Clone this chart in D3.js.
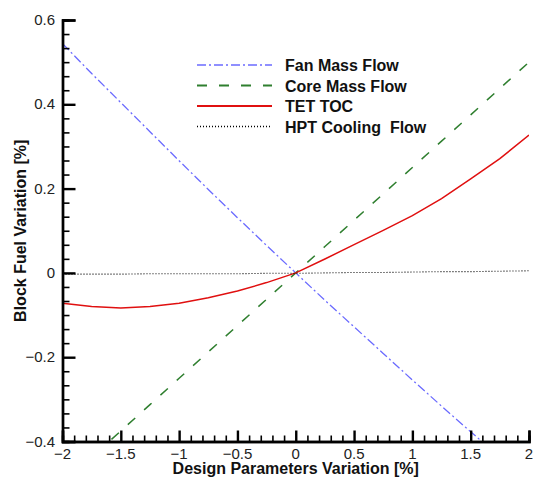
<!DOCTYPE html>
<html>
<head>
<meta charset="utf-8">
<script src="https://cdn.jsdelivr.net/npm/d3@7"></script>
<style>
  body { margin: 0; background: #fff; }
  svg text { font-family: "Liberation Sans", Arial, sans-serif; }
</style>
</head>
<body>
<div id="chart"></div>
<script>
// x positions (design parameter variation, %)
const xValues = [-2, -1.75, -1.5, -1.25, -1, -0.75, -0.5, -0.25, 0, 0.25, 0.5, 0.75, 1, 1.25, 1.5, 1.75, 2];

// block fuel variation (%) for each series
const fanMassFlow = [0.544, 0.473, 0.404, 0.335, 0.266, 0.198, 0.131, 0.065, 0, -0.065, -0.128, -0.191, -0.254, -0.316, -0.377, -0.437, -0.496];
const coreMassFlow = [-0.5, -0.4375, -0.375, -0.3125, -0.25, -0.1875, -0.125, -0.0625, 0, 0.0625, 0.125, 0.1875, 0.25, 0.3125, 0.375, 0.4375, 0.5];
const tetToc = [-0.072, -0.080, -0.083, -0.080, -0.072, -0.059, -0.043, -0.023, 0, 0.033, 0.067, 0.101, 0.136, 0.176, 0.223, 0.271, 0.327];
const hptCoolingFlow = [-0.003, -0.003, -0.003, -0.002, -0.002, -0.002, -0.002, -0.001, -0.001, 0, 0.001, 0.001, 0.002, 0.003, 0.003, 0.004, 0.005];

const xTicks = [-2, -1.5, -1, -0.5, 0, 0.5, 1, 1.5, 2];
const yTicks = [-0.4, -0.2, 0, 0.2, 0.4, 0.6];

const seriesList = [
  { name: "Fan Mass Flow", values: fanMassFlow, color: "#6b6bff", dash: "9,3,2,3", width: 1.3 },
  { name: "Core Mass Flow", values: coreMassFlow, color: "#2f7f2f", dash: "10,12", width: 1.5 },
  { name: "TET TOC", values: tetToc, color: "#e01010", dash: null, width: 1.5 },
  { name: "HPT Cooling  Flow", values: hptCoolingFlow, color: "#000", dash: "1,2", width: 1.1 }
];

const width = 533, height = 479;
const plotLeft = 62.5, plotRight = 529, plotTop = 20, plotBottom = 441.5;

const svg = d3.select("#chart").append("svg")
  .attr("width", width)
  .attr("height", height);

const x = d3.scaleLinear().domain([-2, 2]).range([plotLeft, plotRight]);
const y = d3.scaleLinear().domain([-0.4, 0.6]).range([plotBottom, plotTop]);

svg.append("clipPath").attr("id", "plotclip")
  .append("rect")
  .attr("x", plotLeft).attr("y", plotTop)
  .attr("width", plotRight - plotLeft).attr("height", plotBottom - plotTop);

const line = d3.line()
  .x(d => x(d[0]))
  .y(d => y(d[1]));

// Series lines
const plot = svg.append("g").attr("clip-path", "url(#plotclip)");
seriesList.forEach(s => {
  plot.append("path")
    .datum(xValues.map((xv, i) => [xv, s.values[i]]))
    .attr("d", line)
    .attr("fill", "none")
    .attr("stroke", s.color)
    .attr("stroke-width", s.width)
    .attr("stroke-dasharray", s.dash);
});

// Minor ticks
const xMinor = d3.range(-2, 2.0001, 0.1).filter(v => Math.abs(v * 2 - Math.round(v * 2)) > 1e-6);
const yMinor = d3.range(-0.4, 0.6001, 0.2 / 6).filter(v => Math.abs(v * 5 - Math.round(v * 5)) > 1e-6);

// X axis (ticks pointing into the plot)
const xAxis = svg.append("g")
  .attr("transform", `translate(0,${plotBottom})`)
  .call(d3.axisTop(x).tickValues(xMinor).tickSize(6).tickFormat(""));
const xMajor = xAxis.append("g")
  .call(d3.axisTop(x).tickValues(xTicks).tickSize(11).tickFormat(""));
xAxis.selectAll("path.domain").attr("stroke-width", 2.4).attr("stroke", "#000");
xAxis.selectAll("line").attr("stroke", "#000").attr("stroke-width", 1.6);
xMajor.selectAll("line").attr("stroke-width", 2.4);

svg.selectAll(".xlabel")
  .data(xTicks)
  .enter().append("text")
  .attr("x", d => x(d))
  .attr("y", plotBottom + 17)
  .attr("text-anchor", "middle")
  .attr("font-size", "15px")
  .attr("fill", "#222")
  .text(d => d3.format("")(d));

// Y axis (ticks pointing into the plot)
const yAxis = svg.append("g")
  .attr("transform", `translate(${plotLeft},0)`)
  .call(d3.axisRight(y).tickValues(yMinor).tickSize(7).tickFormat(""));
const yMajor = yAxis.append("g")
  .call(d3.axisRight(y).tickValues(yTicks).tickSize(13).tickFormat(""));
yAxis.selectAll("path.domain").attr("stroke-width", 2.4).attr("stroke", "#000");
yAxis.selectAll("line").attr("stroke", "#000").attr("stroke-width", 1.6);
yMajor.selectAll("line").attr("stroke-width", 2.4);

svg.selectAll(".ylabel")
  .data(yTicks)
  .enter().append("text")
  .attr("x", 55)
  .attr("y", d => y(d) + 5)
  .attr("text-anchor", "end")
  .attr("font-size", "15px")
  .attr("fill", "#222")
  .text(d => d3.format("")(d));

// Axis titles
svg.append("text")
  .attr("x", (plotLeft + plotRight) / 2)
  .attr("y", 474)
  .attr("text-anchor", "middle")
  .attr("font-size", "16px")
  .attr("font-weight", "bold")
  .attr("fill", "#111")
  .text("Design Parameters Variation [%]");

svg.append("text")
  .attr("transform", `translate(26,${(plotTop + plotBottom) / 2}) rotate(-90)`)
  .attr("text-anchor", "middle")
  .attr("font-size", "16px")
  .attr("font-weight", "bold")
  .attr("fill", "#111")
  .text("Block Fuel Variation [%]");

// Legend
const legend = svg.append("g").attr("transform", "translate(197,65)");
seriesList.forEach((s, i) => {
  const row = legend.append("g").attr("transform", `translate(0,${i * 20.5})`);
  row.append("line")
    .attr("x1", 0).attr("x2", 75)
    .attr("y1", 0).attr("y2", 0)
    .attr("stroke", s.color)
    .attr("stroke-width", s.width + 0.4)
    .attr("stroke-dasharray", s.dash);
  row.append("text")
    .attr("x", 88)
    .attr("y", 6)
    .attr("font-size", "16px")
    .attr("font-weight", "bold")
    .attr("fill", "#111")
    .style("white-space", "pre")
    .text(s.name);
});
</script>
</body>
</html>
